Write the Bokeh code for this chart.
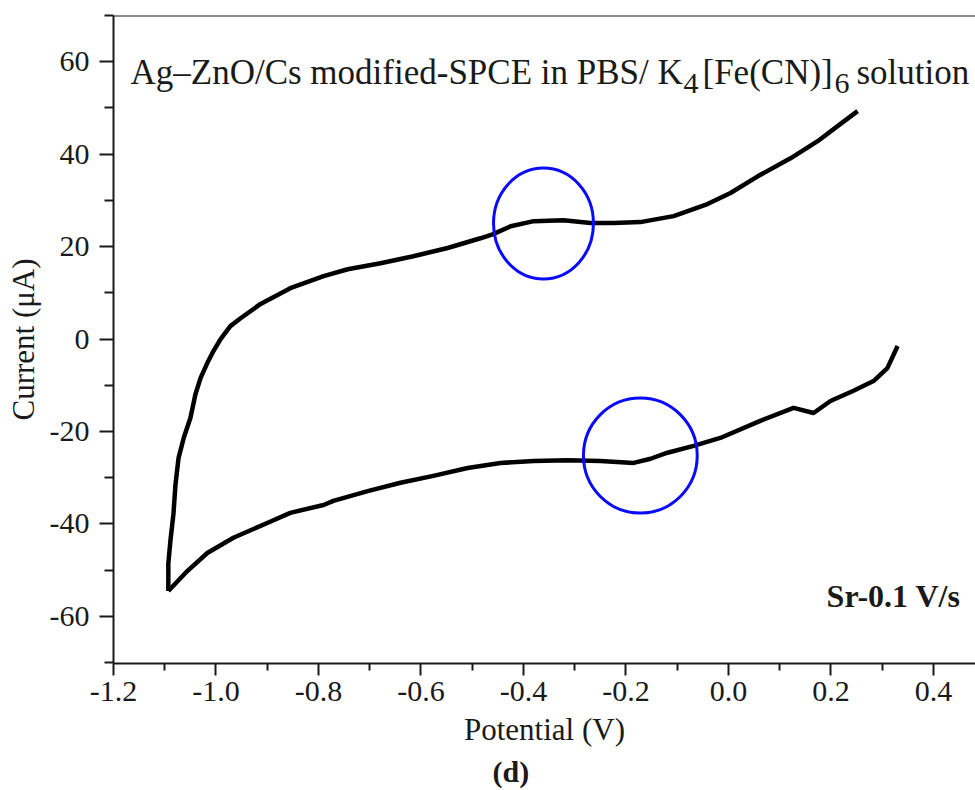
import math
from bokeh.plotting import figure
from bokeh.models import Range1d, Label, Span, FixedTicker, Title
from bokeh.embed import file_html
from bokeh.resources import INLINE

# ---- data (Potential in V, Current in uA) ----
fwd_potential = [-1.093, -1.093, -1.089, -1.083, -1.079, -1.073, -1.063, -1.050, -1.040,
                 -1.030, -1.017, -1.005, -0.991, -0.972, -0.952, -0.913, -0.855, -0.790,
                 -0.743, -0.679, -0.615, -0.548, -0.484, -0.459, -0.425, -0.380, -0.322,
                 -0.269, -0.224, -0.172, -0.107, -0.041, 0.004, 0.057, 0.121, 0.174,
                 0.218, 0.252]
fwd_current = [-54.5, -48.6, -43.7, -37.8, -31.4, -25.7, -21.4, -17.1, -11.9,
               -8.4, -5.2, -2.6, 0.0, 2.8, 4.5, 7.6, 11.0, 13.6,
               15.1, 16.4, 17.9, 19.7, 21.8, 22.7, 24.4, 25.5, 25.7,
               25.1, 25.1, 25.3, 26.6, 29.2, 31.6, 35.2, 39.1, 42.8,
               46.5, 49.3]

rev_potential = [-1.093, -1.056, -1.017, -0.966, -0.900, -0.855, -0.790, -0.771, -0.704,
                 -0.640, -0.576, -0.509, -0.445, -0.380, -0.314, -0.250, -0.185, -0.152,
                 -0.119, -0.068, -0.016, 0.062, 0.127, 0.166, 0.199, 0.244, 0.283,
                 0.310, 0.330]
rev_current = [-54.5, -50.2, -46.3, -43.0, -39.8, -37.6, -35.9, -35.0, -32.9,
               -31.1, -29.6, -27.9, -26.8, -26.4, -26.2, -26.4, -26.8, -25.9,
               -24.6, -23.1, -21.4, -17.7, -14.9, -16.0, -13.4, -11.2, -9.1,
               -6.3, -1.5]

# highlighted peak regions (blue rings)
peak_potential = [-0.361, -0.172]
peak_current = [25.0, -25.2]
ring_width = [0.195, 0.222]
ring_height = [24.0, 24.9]

x_ticks = [-1.2, -1.0, -0.8, -0.6, -0.4, -0.2, 0.0, 0.2, 0.4]
x_tick_labels = ["-1.2", "-1.0", "-0.8", "-0.6", "-0.4", "-0.2", "0.0", "0.2", "0.4"]
y_ticks = [-60, -40, -20, 0, 20, 40, 60]
y_tick_labels = ["-60", "-40", "-20", "0", "20", "40", "60"]

FONT = "Liberation Serif"
INK = "#1a1a1a"

p = figure(width=975, height=790, output_backend="svg", toolbar_location=None,
           x_range=Range1d(-1.2, 0.482), y_range=Range1d(-70.2, 70.0),
           min_border_left=113, min_border_right=0, min_border_top=15,
           min_border_bottom=127, background_fill_color="white",
           border_fill_color="white", outline_line_color=None)
p.grid.visible = False

x_minor = [(a + b) / 2 for a, b in zip(x_ticks[:-1], x_ticks[1:])] + [x_ticks[-1] + 0.1]
y_minor = [(a + b) / 2 for a, b in zip(y_ticks[:-1], y_ticks[1:])] + [y_ticks[0] - 10, y_ticks[-1] + 10]
p.xaxis.ticker = FixedTicker(ticks=x_ticks, minor_ticks=x_minor)
p.yaxis.ticker = FixedTicker(ticks=y_ticks, minor_ticks=y_minor)
p.xaxis.major_label_overrides = {t: s for t, s in zip(x_ticks, x_tick_labels)}
p.yaxis.major_label_overrides = {t: s for t, s in zip(y_ticks, y_tick_labels)}

for ax in (p.xaxis, p.yaxis):
    ax.axis_line_width = 2
    ax.axis_line_color = INK
    ax.major_tick_line_width = 2
    ax.minor_tick_line_width = 2
    ax.major_tick_line_color = INK
    ax.minor_tick_line_color = INK
    ax.major_tick_in = 0
    ax.minor_tick_in = 0
    ax.major_label_text_font = FONT
    ax.major_label_text_font_size = "30px"
    ax.major_label_text_color = INK
    ax.axis_label_text_font = FONT
    ax.axis_label_text_font_style = "normal"
    ax.axis_label_text_color = INK
p.xaxis.major_tick_out = 12
p.xaxis.minor_tick_out = 7
p.xaxis.major_label_standoff = 6
p.yaxis.major_tick_out = 14
p.yaxis.minor_tick_out = 9
p.yaxis.major_label_standoff = 10

p.xaxis.axis_label = "Potential (V)"
p.xaxis.axis_label_text_font_size = "31px"
p.xaxis.axis_label_standoff = 8
p.yaxis.axis_label = "Current (\u03bcA)"
p.yaxis.axis_label_text_font_size = "31px"
p.yaxis.axis_label_standoff = 6

p.add_layout(Span(location=70.0, dimension="width", line_color=INK, line_width=2))

p.line(fwd_potential, fwd_current, line_color="black", line_width=4.5, line_join="round")
p.line(rev_potential, rev_current, line_color="black", line_width=4.5, line_join="round")
p.ellipse(x=peak_potential, y=peak_current, width=ring_width, height=ring_height,
          fill_color=None, line_color="#0a0aff", line_width=3)


def lab(text, x, y, size, align="left", bold=False):
    p.add_layout(Label(x=x, y=y, x_units="screen", y_units="screen", text=text,
                       text_font=FONT, text_font_size=size, text_color=INK,
                       text_align=align, text_baseline="alphabetic",
                       text_font_style="bold" if bold else "normal"))


# in-plot title with subscripts
lab("Ag\u2013ZnO/Cs modified-SPCE in PBS/ K", 17, 591, "35px")
lab("4", 570, 580, "30px")
lab("[Fe(CN)]", 589, 591, "35px")
lab("6", 721, 580, "30px")
lab("solution", 743, 591, "35px")

lab("Sr-0.1 V/s", 847, 68, "32px", align="right", bold=True)

# figure caption below the axis
cap = Title(text="(d)", align="left", offset=379, standoff=6,
            text_font=FONT, text_font_size="30px", text_font_style="bold",
            text_color=INK)
p.add_layout(cap, "below")

open("out.html", "w").write(file_html(p, INLINE))
